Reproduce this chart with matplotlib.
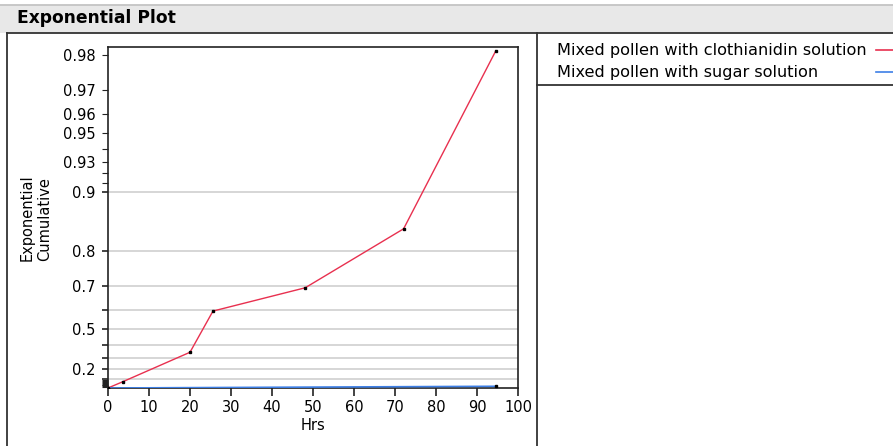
import numpy as np
import matplotlib
matplotlib.use("Agg")
import matplotlib.pyplot as plt
from matplotlib.lines import Line2D
from matplotlib.patches import Rectangle

# data
hrs = [0, 3.6, 20.0, 25.6, 48.1, 72.1, 94.6]
clothianidin = [0, 0.071, 0.343, 0.595, 0.692, 0.846, 0.981]
sugar_hrs = [0, 94.6]
sugar = [0, 0.02]

series_names = ["Mixed pollen with clothianidin solution",
                "Mixed pollen with sugar solution"]
series_colors = ["#e8304f", "#3d7fe6"]

grid_ticks = [0.1, 0.2, 0.3, 0.4, 0.5, 0.6, 0.7, 0.8, 0.9]
grid_labels = ["", "0.2", "", "", "0.5", "", "0.7", "0.8", "0.9"]
small_ticks = [0.01, 0.02, 0.03, 0.04, 0.05, 0.06, 0.07, 0.08, 0.09,
               0.91, 0.92, 0.93, 0.94, 0.95, 0.96, 0.97, 0.98]
small_labels = [""] * 9 + ["", "", "0.93", "", "0.95", "0.96", "0.97", "0.98"]
x_ticks = list(range(0, 101, 10))

W, H = 893, 446
plt.rcParams["font.family"] = "DejaVu Sans"
fig = plt.figure(figsize=(W / 100, H / 100), dpi=100)


def fx(px):
    return px / W


def fy(py):
    return 1 - py / H


def fwd(y):
    y = np.asarray(y, dtype=float)
    return -np.log(np.clip(1 - y, 1e-12, None))


def inv(t):
    return 1 - np.exp(-np.asarray(t, dtype=float))


# title bar and panel frame
fig.patches.append(Rectangle((0, fy(33)), 1, fy(5) - fy(33), transform=fig.transFigure,
                             facecolor="#e8e8e8", edgecolor="none", zorder=0))
frame = [((0, 1), (fy(5), fy(5)), "#c4c4c4"),
         ((fx(7), 1), (fy(33), fy(33)), "#333333"),
         ((fx(7), fx(7)), (fy(33), 0), "#333333"),
         ((fx(537), fx(537)), (fy(33), 0), "#333333"),
         ((fx(537), 1), (fy(85), fy(85)), "#333333")]
for xs, ys, c in frame:
    fig.lines.append(Line2D(xs, ys, transform=fig.transFigure, color=c, lw=1.3))
fig.text(fx(17), fy(18), "Exponential Plot", fontsize=12.3, fontweight="bold",
         ha="left", va="center")

ax = fig.add_axes([fx(108), fy(388), fx(518) - fx(108), fy(47) - fy(388)])
ax.set_yscale("function", functions=(fwd, inv))
ax.set_xlim(0, 100)
ax.set_ylim(0, float(inv(4.007)))

for yv in grid_ticks:
    ax.axhline(yv, color="#d6d6d6", lw=1.4, zorder=0)

ax.plot(hrs, clothianidin, color=series_colors[0], lw=1.0, marker="s", ms=2,
        mfc="black", mec="black", zorder=3)
ax.plot(sugar_hrs, sugar, color=series_colors[1], lw=1.2, marker="s", ms=2,
        mfc="black", mec="black", zorder=3)

ax.set_yticks(grid_ticks)
ax.set_yticklabels(grid_labels)
ax.set_yticks(small_ticks, minor=True)
ax.set_yticklabels(small_labels, minor=True)
ax.set_xticks(x_ticks)
ax.set_xticklabels([str(v) for v in x_ticks])
ax.tick_params(axis="y", which="major", length=4, width=1.2, pad=5, labelsize=10.5,
               color="#222222")
ax.tick_params(axis="y", which="minor", length=4, width=0.8, pad=5, labelsize=10.5,
               color="#222222")
ax.tick_params(axis="x", length=6, width=1.2, pad=3, labelsize=10.5, color="#222222")
for sp in ax.spines.values():
    sp.set_linewidth(1.2)
    sp.set_color("#222222")

ax.set_xlabel("Hrs", fontsize=10.5, labelpad=2)
ax.set_ylabel("Exponential\nCumulative", fontsize=10.5, multialignment="left", labelpad=8)

# legend panel
for i, (name, col) in enumerate(zip(series_names, series_colors)):
    yy = fy(50 + 22 * i)
    fig.text(fx(557), yy, name, fontsize=11.6, ha="left", va="center")
    fig.lines.append(Line2D([fx(876), 1], [yy, yy], transform=fig.transFigure,
                            color=col, lw=1.2))

fig.savefig("out.png", dpi=100)
